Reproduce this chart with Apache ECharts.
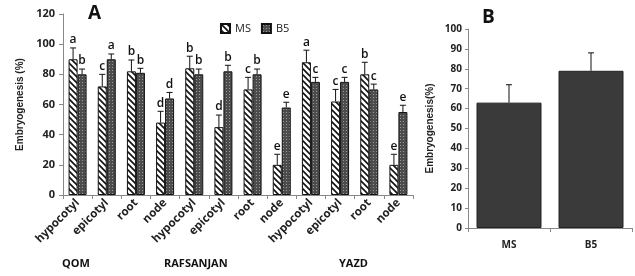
<!DOCTYPE html>
<html><head>
<meta charset="utf-8">
<title>Embryogenesis</title>
<script src="https://cdn.jsdelivr.net/npm/echarts@6/dist/echarts.min.js"></script>
<style>html,body{margin:0;padding:0;background:#fff}</style>
</head>
<body>
<div id="main" style="width:635px;height:276px"></div>
<script type="text/javascript">
// data panel A
var tissues = ['hypocotyl','epicotyl','root','node','hypocotyl','epicotyl','root','node','hypocotyl','epicotyl','root','node'];
var msVals = [90, 72, 82, 48, 84, 45, 70, 20, 88, 62, 80, 20];
var msErr  = [7.5, 8, 7.5, 7.5, 8, 8, 8, 7, 8, 8, 8, 7];
var msLetters = ['a','c','b','d','b','d','c','e','a','c','b','e'];
var b5Vals = [80, 90, 81, 64, 80, 82, 80, 58, 75, 75, 70, 55];
var b5Err  = [3.5, 3.5, 3, 4, 3.5, 4, 3.5, 3.5, 3, 3, 3.5, 4.5];
var b5Letters = ['b','a','b','d','b','b','b','e','c','c','c','e'];
var groups = ['QOM','RAFSANJAN','YAZD'];
// data panel B
var mediums = ['MS','B5'];
var medVals = [63, 79];
var medErr = [9, 9];

function makePattern(kind){
  var c = document.createElement('canvas');
  var ctx = c.getContext('2d');
  if(kind==='hatch'){
    c.width = 6; c.height = 6;
    ctx.fillStyle = '#fff'; ctx.fillRect(0,0,6,6);
    ctx.strokeStyle = '#111'; ctx.lineWidth = 1.6;
    ctx.beginPath();
    ctx.moveTo(-1,-1); ctx.lineTo(7,7);
    ctx.moveTo(-4,2); ctx.lineTo(4,10);
    ctx.moveTo(2,-4); ctx.lineTo(10,4);
    ctx.stroke();
  } else {
    c.width = 3; c.height = 3;
    ctx.fillStyle = '#4c4c4c'; ctx.fillRect(0,0,3,3);
    ctx.fillStyle = '#9a9a9a'; ctx.fillRect(1,1,1,1);
  }
  return {image: c, repeat: 'repeat'};
}
var hatch = makePattern('hatch');
var dots = makePattern('dots');

function errItem(vals, errs, letters, offset){
  return function(params, api){
    var i = api.value(0);
    var top = api.coord([i, vals[i]]);
    var hi = api.coord([i, vals[i] + errs[i]]);
    var x = top[0] + offset;
    var kids = [
      {type:'line', shape:{x1:x, y1:top[1], x2:x, y2:hi[1]}, style:{stroke:'#111', lineWidth:1}},
      {type:'line', shape:{x1:x-3, y1:hi[1], x2:x+3, y2:hi[1]}, style:{stroke:'#111', lineWidth:1}}
    ];
    if(letters){
      kids.push({type:'text', x:x, y:hi[1]-2, style:{text:letters[i], fill:'#111',
        font:'600 12px "Open Sans", sans-serif', align:'center', verticalAlign:'bottom'}});
    }
    return {type:'group', children:kids};
  };
}

var myChart = echarts.init(document.getElementById('main'));
var axisLbl = {color:'#222', fontSize:10, fontWeight:'bold', fontFamily:'"Open Sans", sans-serif'};

option = {
  animation: false,
  grid: [
    {left:63, top:14, width:350, height:181},
    {left:468, top:29, width:164, height:199}
  ],
  legend: {
    left: 215, top: 18, itemWidth: 9, itemHeight: 9, itemGap: 10,
    icon: 'rect',
    data: ['MS','B5'],
    textStyle: {fontSize: 11, color:'#222', fontFamily:'"Open Sans", sans-serif'}
  },
  xAxis: [
    {type:'category', gridIndex:0, data:tissues,
     axisLine:{lineStyle:{color:'#888'}},
     axisTick:{show:true, length:4, lineStyle:{color:'#888'}},
     axisLabel: Object.assign({rotate:45, margin:6, interval:0}, axisLbl, {fontSize:11.5})},
    {type:'category', gridIndex:1, data:mediums,
     axisLine:{lineStyle:{color:'#888'}},
     axisTick:{show:true, length:4, lineStyle:{color:'#888'}},
     axisLabel: Object.assign({margin:12}, axisLbl)}
  ],
  yAxis: [
    {type:'value', gridIndex:0, min:0, max:120, interval:20,
     name:'Embryogenesis (%)', nameLocation:'middle', nameGap:37,
     nameTextStyle:{fontSize:10, fontWeight:'bold', color:'#222'},
     axisLine:{show:true, lineStyle:{color:'#888'}},
     axisTick:{show:true, length:4, lineStyle:{color:'#888'}},
     splitLine:{show:false},
     axisLabel: Object.assign({margin:8}, axisLbl, {fontSize:11})},
    {type:'value', gridIndex:1, min:0, max:100, interval:10,
     name:'Embryogenesis(%)', nameLocation:'middle', nameGap:33,
     nameTextStyle:{fontSize:10, fontWeight:'bold', color:'#222'},
     axisLine:{show:true, lineStyle:{color:'#888'}},
     axisTick:{show:true, length:3, lineStyle:{color:'#888'}},
     splitLine:{show:false},
     axisLabel: Object.assign({margin:6}, axisLbl)}
  ],
  graphic: [
    {type:'text', left:88, top:4, style:{text:'A', font:'bold 19px "Open Sans", sans-serif', fill:'#111'}},
    {type:'text', left:482, top:8, style:{text:'B', font:'bold 19px "Open Sans", sans-serif', fill:'#111'}},
    {type:'text', left:62, top:258, style:{text:groups[0], font:'bold 11px "Open Sans", sans-serif', fill:'#111'}},
    {type:'text', left:164, top:258, style:{text:groups[1], font:'bold 11px "Open Sans", sans-serif', fill:'#111'}},
    {type:'text', left:339, top:258, style:{text:groups[2], font:'bold 11px "Open Sans", sans-serif', fill:'#111'}}
  ],
  series: [
    {name:'MS', type:'bar', xAxisIndex:0, yAxisIndex:0, data:msVals, barWidth:9, barGap:'0%',
     itemStyle:{color:hatch, borderColor:'#111', borderWidth:1}},
    {name:'B5', type:'bar', xAxisIndex:0, yAxisIndex:0, data:b5Vals, barWidth:9, barGap:'0%',
     itemStyle:{color:dots, borderColor:'#111', borderWidth:1}},
    {type:'custom', xAxisIndex:0, yAxisIndex:0, z:5,
     data: msVals.map(function(v,i){return [i, v];}),
     renderItem: errItem(msVals, msErr, msLetters, -4.5)},
    {type:'custom', xAxisIndex:0, yAxisIndex:0, z:5,
     data: b5Vals.map(function(v,i){return [i, v];}),
     renderItem: errItem(b5Vals, b5Err, b5Letters, 4.5)},
    {type:'bar', xAxisIndex:1, yAxisIndex:1, data:medVals, barWidth:65,
     itemStyle:{color:'#3a3a3a', borderColor:'#222', borderWidth:1}},
    {type:'custom', xAxisIndex:1, yAxisIndex:1, z:5,
     data: medVals.map(function(v,i){return [i, v];}),
     renderItem: errItem(medVals, medErr, null, 0)}
  ]
};

myChart.setOption(option);
</script>
</body>
</html>
